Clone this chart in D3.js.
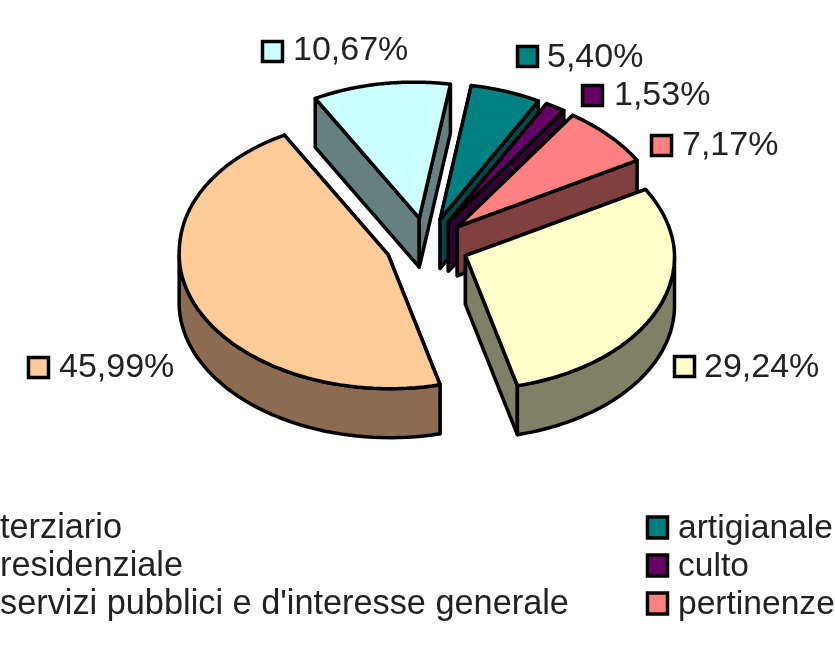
<!DOCTYPE html>
<html><head><meta charset="utf-8">
<script src="https://cdnjs.cloudflare.com/ajax/libs/d3/7.8.5/d3.min.js"></script>
<style>html,body{margin:0;padding:0;background:#fff;overflow:hidden}svg{display:block;filter:blur(0.45px)}text{font-family:"Liberation Sans",Arial,sans-serif;fill:#222}</style>
</head><body><svg id="c" width="835" height="652"></svg>
<script>
const categories=["terziario","residenziale","servizi pubblici e d'interesse generale","artigianale","culto","pertinenze"];
const values=[29.24,45.99,10.67,5.40,1.53,7.17];
const valueLabels=["29,24%","45,99%","10,67%","5,40%","1,53%","7,17%"];
const topColors=["#ffffcc","#ffcc99","#ccffff","#008080","#660066","#ff8080"];
const sideColors=["#808066","#8c6c50","#668080","#004848","#330033","#804040"];

const W=835,H=652,cx=427,cy=245,rx=209,ry=134,depth=49,explode=0.2,startDeg=60.8;
const shearBack=0.04,shearFront=0.012,stretchBack=0.015;
const svg=d3.select("#c");
const X=d3.scaleLinear().domain([-1,1]).range([cx-rx,cx+rx]);
const Y=d3.scaleLinear().domain([-1,1]).range([cy-ry,cy+ry]);
const pie=d3.pie().sort(null).value(d=>d).startAngle(startDeg*Math.PI/180).endAngle((startDeg+360)*Math.PI/180);
const arcs=pie(values).map((a,i)=>({...a,i}));
const line=d3.line().x(p=>p[0]).y(p=>p[1]);

function geom(a){
  const m=(a.startAngle+a.endAngle)/2;
  const ox=explode*Math.sin(m),oy=-explode*Math.cos(m);
  const pt=(t,r=1,dz=0)=>{
    const x=X(ox+r*Math.sin(t)),y=Y(oy-r*Math.cos(t)),d=y-cy,back=Math.min(0,d),front=Math.max(0,d);
    return [x+shearBack*back+shearFront*front,y+stretchBack*back+dz];
  };
  return {pt};
}
// back-to-front painter order
const order=[2,3,4,5,0,1];
const g=svg.append("g").attr("stroke","#000").attr("stroke-width",3.5).attr("stroke-linejoin","round");
order.forEach(i=>{
  const a=arcs[i],{pt}=geom(a);
  const fill=sideColors[i],top=topColors[i];
  const quad=t=>[pt(t,0),pt(t),pt(t,1,depth),pt(t,0,depth)];
  g.append("path").attr("d",line(quad(a.startAngle))+"Z").attr("fill",fill);
  g.append("path").attr("d",line(quad(a.endAngle))+"Z").attr("fill",fill);
  const steps=d3.range(0,73).map(k=>a.startAngle+(a.endAngle-a.startAngle)*k/72);
  const front=steps.filter(t=>Math.cos(t)<0.02);
  if(front.length>1){
    const wall=front.map(t=>pt(t)).concat(front.slice().reverse().map(t=>pt(t,1,depth)));
    g.append("path").attr("d",line(wall)+"Z").attr("fill",fill);
  }
  const face=[pt(0,0)].concat(steps.map(t=>pt(t)));
  g.append("path").attr("d",line(face)+"Z").attr("fill",top);
});

// data labels with keys
const labelLayout=[[673,355,704,377],[27,356,59,377],[261,40,293,60],[516,45,547,67],[581,84,614,105],[650,134,682,155]];
values.forEach((v,i)=>{
  const [sx,sy,tx,ty]=labelLayout[i];
  svg.append("rect").attr("x",sx+1.5).attr("y",sy+1.5).attr("width",20).attr("height",20)
    .attr("fill",topColors[i]).attr("stroke","#000").attr("stroke-width",3.5);
  svg.append("text").attr("x",tx).attr("y",ty).attr("font-size",34).text(valueLabels[i]);
});

// legend (left column keys fall off the left edge of the page)
const legendLayout=[[-30,538],[-30,576],[-30,614],[646,538],[646,576],[646,614]];
categories.forEach((c,i)=>{
  const [sx,by]=legendLayout[i];
  svg.append("rect").attr("x",sx+1.5).attr("y",by-21).attr("width",20).attr("height",21)
    .attr("fill",topColors[i]).attr("stroke","#000").attr("stroke-width",3.5);
  svg.append("text").attr("x",i<3?sx+30:sx+32).attr("y",by).attr("font-size",i<3?34.3:33.6).text(c);
});
</script></body></html>
